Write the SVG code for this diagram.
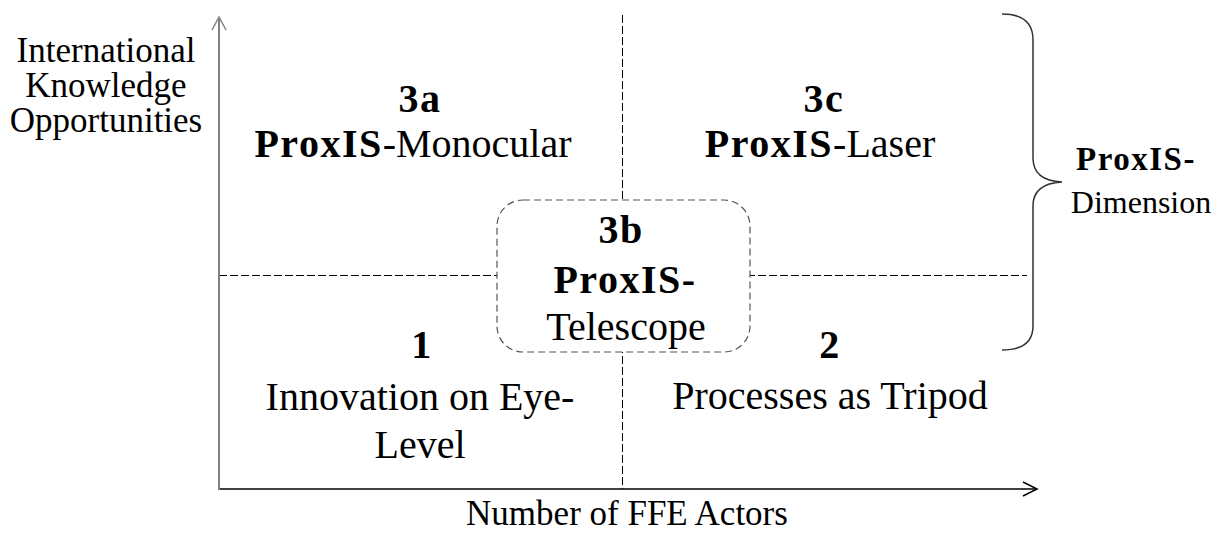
<svg xmlns="http://www.w3.org/2000/svg" width="1219" height="539" viewBox="0 0 1219 539" font-family="'Liberation Serif', 'Times New Roman', serif">
<style>
.t{font-family:'Liberation Serif','Times New Roman',serif;fill:#000;text-anchor:middle}
.q{font-size:40px}
.ax{font-size:35px}
.b{font-weight:bold;letter-spacing:1.5px}
.dash{stroke:#000;stroke-width:1;stroke-dasharray:8 3;fill:none}
</style>
<rect width="1219" height="539" fill="#fff"/>
<g id="connectors">
<line class="dash" x1="219" y1="275.5" x2="1027" y2="275.5"/>
<line class="dash" x1="622.5" y1="15" x2="622.5" y2="489"/>
<line x1="219" y1="489" x2="1036" y2="489" stroke="#000" stroke-width="1.5"/>
<polyline points="1023,482 1037,489 1023,496" fill="none" stroke="#000" stroke-width="1.5"/>
<line x1="219" y1="490" x2="219" y2="18" stroke="#808080" stroke-width="2"/>
<polyline points="212,30 219,17 226,30" fill="none" stroke="#808080" stroke-width="1.5"/>
</g>
<g id="yaxis-label">
<text class="t ax" x="106" y="62" font-family="'Liberation Serif', serif">International</text>
<text class="t ax" x="106" y="97" font-family="'Liberation Serif', serif">Knowledge</text>
<text class="t ax" x="106" y="132" font-family="'Liberation Serif', serif">Opportunities</text>
</g>
<g id="xaxis-label">
<text class="t ax" x="627" y="525" font-family="'Liberation Serif', serif" font-size="36">Number of FFE Actors</text>
</g>
<g id="q3a">
<text class="t q b" x="420" y="112" font-family="'Liberation Serif', serif">3a</text>
<text class="t q" x="413" y="157" font-family="'Liberation Serif', serif"><tspan class="b">ProxIS</tspan>-Monocular</text>
</g>
<g id="q3c">
<text class="t q b" x="824" y="112" font-family="'Liberation Serif', serif">3c</text>
<text class="t q" x="820" y="157" font-family="'Liberation Serif', serif"><tspan class="b">ProxIS</tspan>-Laser</text>
</g>
<g id="q1">
<text class="t q b" x="422" y="358" font-family="'Liberation Serif', serif">1</text>
<text class="t q" x="420" y="410" font-family="'Liberation Serif', serif">Innovation on Eye-</text>
<text class="t q" x="420" y="458" font-family="'Liberation Serif', serif">Level</text>
</g>
<g id="q2">
<text class="t q b" x="830" y="358" font-family="'Liberation Serif', serif">2</text>
<text class="t q" x="830" y="409" font-family="'Liberation Serif', serif">Processes as Tripod</text>
</g>
<g id="q3b">
<rect x="497" y="200" width="253" height="152" rx="26" ry="26" fill="#fff" stroke="#555" stroke-width="1.2" stroke-dasharray="7 4"/>
<text class="t q b" x="621" y="243" font-family="'Liberation Serif', serif">3b</text>
<text class="t q b" x="625" y="293" font-family="'Liberation Serif', serif">ProxIS-</text>
<text class="t q" x="626" y="340" font-family="'Liberation Serif', serif">Telescope</text>
</g>
<g id="brace">
<path d="M1002,14 C1022,14 1033,22 1033,40 L1033,158 C1033,172 1042,181 1062,182 C1042,183 1033,192 1033,206 L1033,326 C1033,342 1022,350 1002,350" fill="none" stroke="#333" stroke-width="1.5"/>
<text class="t b" x="1136" y="170" font-family="'Liberation Serif', serif" font-size="33">ProxIS-</text>
<text class="t" x="1141" y="213" font-family="'Liberation Serif', serif" font-size="32">Dimension</text>
</g>
</svg>
